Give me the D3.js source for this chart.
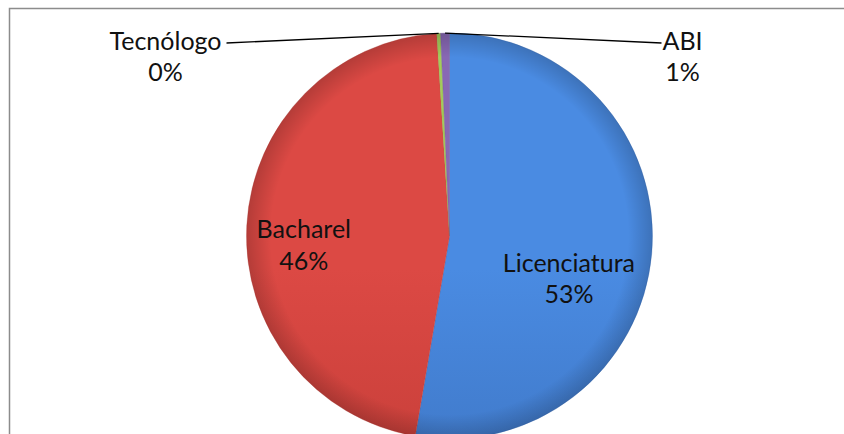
<!DOCTYPE html>
<html>
<head>
<meta charset="utf-8">
<script src="https://cdn.jsdelivr.net/npm/d3@7"></script>
<style>
  body { margin: 0; background: #fff; }
  svg { display: block; }
</style>
</head>
<body>
<div id="wrapper"></div>
<script>
// data
const categories = ["Licenciatura", "Bacharel", "Tecnólogo", "ABI"]
const values = [52.7, 46.3, 0.3, 0.7]
const percentLabels = ["53%", "46%", "0%", "1%"]
const colorsTop = ["#4a8be2", "#dc4944", "#a4cc5a", "#8868b4"]
const colorsBottom = ["#3566ae", "#b3352f", "#86a848", "#6a4e92"]

const data = categories.map((c, i) => ({ name: c, value: values[i], pct: percentLabels[i], i }))

// dimensions
const width = 844
const height = 434
const cx = 449.5
const cy = 236
const radius = 203

const svg = d3.select("#wrapper").append("svg")
  .attr("width", width)
  .attr("height", height)

// gradients (page coordinates)
const defs = svg.append("defs")
data.forEach(d => {
  const g = defs.append("linearGradient")
    .attr("id", "grad" + d.i)
    .attr("gradientUnits", "userSpaceOnUse")
    .attr("x1", 0).attr("y1", cy - radius)
    .attr("x2", 0).attr("y2", cy + radius)
  g.append("stop").attr("offset", "0%").attr("stop-color", colorsTop[d.i])
  g.append("stop").attr("offset", "100%").attr("stop-color", colorsBottom[d.i])
})

const rim = defs.append("radialGradient")
  .attr("id", "rim")
  .attr("gradientUnits", "userSpaceOnUse")
  .attr("cx", cx).attr("cy", cy).attr("r", radius)
rim.append("stop").attr("offset", "88%").attr("stop-color", "#000").attr("stop-opacity", 0)
rim.append("stop").attr("offset", "100%").attr("stop-color", "#000").attr("stop-opacity", 0.18)

// chart border
svg.append("rect")
  .attr("x", 9.5).attr("y", 8.5)
  .attr("width", width + 20).attr("height", height + 20)
  .attr("fill", "none")
  .attr("stroke", "#8c8c8c")
  .attr("stroke-width", 1.5)

// slices
const pie = d3.pie().sort(null).value(d => d.value)
const arcs = pie(data)
const arc = d3.arc().innerRadius(0).outerRadius(radius)

svg.append("g")
  .selectAll("path")
  .data(arcs)
  .join("path")
    .attr("d", arc)
    .attr("transform", `translate(${cx},${cy})`)
    .attr("fill", d => `url(#grad${d.data.i})`)
    .attr("stroke", d => colorsBottom[d.data.i])
    .attr("stroke-width", 0.3)

// rim shading
svg.append("circle")
  .attr("cx", cx).attr("cy", cy).attr("r", radius)
  .attr("fill", "url(#rim)")

const font = "Lato, 'Open Sans', sans-serif"
const fontSize = 25

// inside labels
const labelArc = d3.arc().innerRadius(radius * 0.62).outerRadius(radius * 0.62)
const insideOffset = { Licenciatura: [-6, 30], Bacharel: [-20, 14] }
arcs.filter(d => insideOffset[d.data.name]).forEach(d => {
  const [x, y] = labelArc.centroid(d)
  const [ox, oy] = insideOffset[d.data.name]
  const lx = cx + x + ox
  const t = svg.append("text")
    .attr("y", cy + y + oy)
    .attr("text-anchor", "middle")
    .style("font-family", font)
    .style("font-size", fontSize + "px")
    .attr("fill", "#111")
  t.append("tspan").attr("x", lx).attr("dy", "-0.2em").text(d.data.name)
  t.append("tspan").attr("x", lx).attr("dy", "1.25em").text(d.data.pct)
})

// outside labels with leader lines
const outside = {
  "Tecnólogo": { lx: -284, ly: -186, lineEnd: -223 },
  "ABI": { lx: 233, ly: -186, lineEnd: 212 }
}
arcs.filter(d => outside[d.data.name]).forEach(d => {
  const o = outside[d.data.name]
  const mid = (d.startAngle + d.endAngle) / 2
  const px = cx + Math.sin(mid) * radius
  const py = cy - Math.cos(mid) * radius
  svg.append("path")
    .attr("d", `M${px},${py} L${cx + o.lineEnd},${cy - 193}`)
    .attr("stroke", "#000")
    .attr("stroke-width", 1.3)
    .attr("fill", "none")
  const t = svg.append("text")
    .attr("text-anchor", "middle")
    .style("font-family", font)
    .style("font-size", fontSize + "px")
    .attr("fill", "#111")
  t.append("tspan").attr("x", cx + o.lx).attr("y", cy + o.ly).text(d.data.name)
  t.append("tspan").attr("x", cx + o.lx).attr("dy", "1.25em").text(d.data.pct)
})
</script>
</body>
</html>
